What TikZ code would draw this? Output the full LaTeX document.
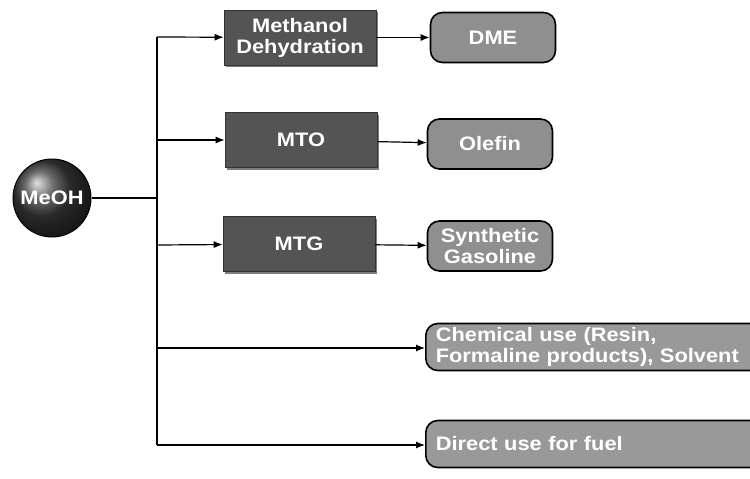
\documentclass[tikz,border=0pt]{standalone}
\usepackage{fontspec}
\setmainfont[FakeStretch=1.12]{Liberation Sans}
\usetikzlibrary{arrows,arrows.meta,calc,shadows}
\definecolor{ProcClr}{rgb}{0.33,0.33,0.33}
\definecolor{ProdClr}{rgb}{0.56,0.56,0.56}
\definecolor{UseClr}{rgb}{0.6,0.6,0.6}

\begin{document}
\begin{tikzpicture}[x=1pt,y=-1pt,
  txt/.style={text=white,font=\fontsize{19.5}{21}\selectfont\bfseries},
  feed/.style={circle,draw=black,line width=1pt,shading=ball,ball color=ProcClr!70!black,
    minimum size=78pt,inner sep=0pt,txt},
  proc/.style={rectangle,fill=ProcClr,draw=black!80,line width=.6pt,
    drop shadow={shadow xshift=2pt,shadow yshift=-2pt,fill=black},
    minimum width=152pt,minimum height=55pt,align=center,inner sep=2pt,txt},
  prod/.style={rectangle,rounded corners=12pt,fill=ProdClr,draw=black,line width=1.6pt,
    minimum width=125pt,minimum height=50pt,align=center,inner sep=2pt,txt},
  use/.style={rectangle,rounded corners=12pt,fill=UseClr,draw=black,line width=1.6pt,
    minimum width=340pt,minimum height=47pt,align=left,text width=320pt,txt},
  link/.style={line width=1.2pt,-{Latex[length=9pt,width=7pt]}}]
\useasboundingbox (0,0) rectangle (750,479);

\node[feed] (meoh) at (52,198) {MeOH};

\coordinate (t0) at (157,37);
\coordinate (t1) at (157,140);
\coordinate (t2) at (157,245);
\coordinate (t3) at (157,348);
\coordinate (t4) at (157,445);

\node[proc] (dehyd) at (300,37.5) {Methanol\\Dehydration};
\node[proc] (mto) at (301,140) {MTO};
\node[proc] (mtg) at (299,244) {MTG};

\node[prod] (dme) at (493,37.5) {DME};
\node[prod] (olefin) at (490,144) {Olefin};
\node[prod] (gasol) at (490,246) {Synthetic\\Gasoline};

\node[use,anchor=west] (chem) at (425,347) {Chemical use (Resin,\\Formaline products), Solvent};
\node[use,anchor=west] (fuel) at (425,444) {Direct use for fuel};

\draw[line width=1.2pt] (meoh) -- (meoh -| t0);
\draw[line width=1.2pt] (t0) -- (t4);

\draw[link] (t0) -- (dehyd);
\draw[link] (t1) -- (mto);
\draw[link] (t2) -- (mtg);
\draw[link] (t3) -- (t3 -| chem.west);
\draw[link] (t4) -- (t4 -| fuel.west);

\draw[link] (dehyd) -- (dme);
\draw[link] (mto) -- (olefin);
\draw[link] (mtg) -- (gasol);

\end{tikzpicture}
\end{document}
